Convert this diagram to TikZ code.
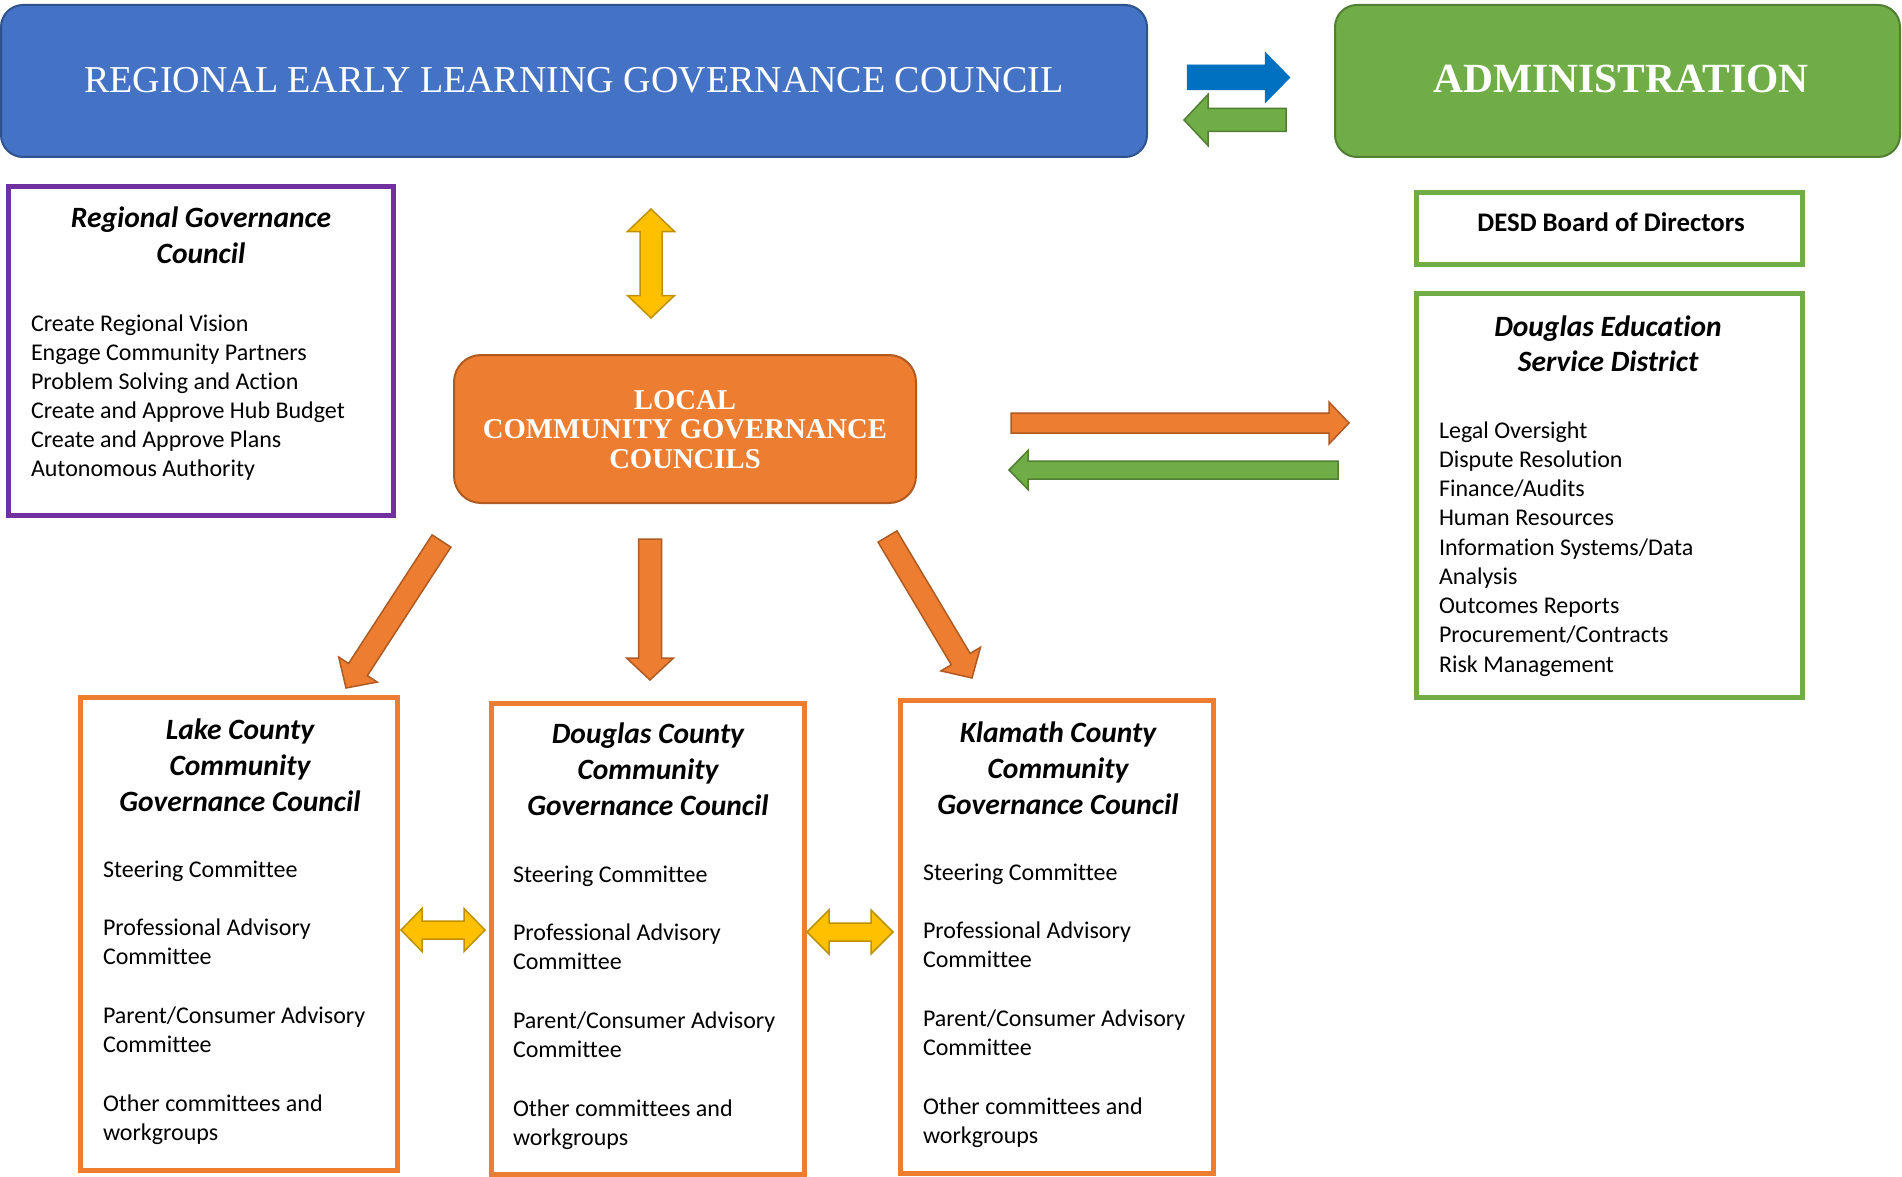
\documentclass[tikz,border=0pt]{standalone}
\usepackage{fontspec}
\setmainfont{Carlito}[Ligatures=NoCommon]
\newfontfamily\hdrfont{Liberation Serif}
\usetikzlibrary{calc}
\definecolor{hblue}{HTML}{4472C4}
\definecolor{hblueD}{HTML}{2F528F}
\definecolor{arrblue}{HTML}{0070C0}
\definecolor{ogreen}{HTML}{70AD47}
\definecolor{ogreenD}{HTML}{507E32}
\definecolor{oorange}{HTML}{ED7D31}
\definecolor{oorangeD}{HTML}{AE5A21}
\definecolor{oyellow}{HTML}{FFC000}
\definecolor{oyellowD}{HTML}{BF9000}
\definecolor{opurple}{HTML}{7030A0}
\newcommand\lst[1]{\begin{tabular}[t]{@{}l@{}}#1\end{tabular}}
\newcommand\ctr[1]{\begin{tabular}[t]{@{}c@{}}#1\end{tabular}}
\newcommand\itemfont{\fontsize{24}{29.3}\selectfont}
\newcommand\titlefont{\fontsize{29.5}{36}\selectfont\bfseries\itshape}
% single-headed block arrow: start, tip, shaft half width, head half width, head length, style
\newcommand\fatarrow[6]{%
  \coordinate (fah) at ($(#2)!#5!(#1)$);
  \filldraw[#6] ($(#1)!#3!90:(#2)$) -- ($(fah)!#3!-90:(#1)$) -- ($(fah)!#4!-90:(#1)$) -- (#2)
    -- ($(fah)!#4!90:(#1)$) -- ($(fah)!#3!90:(#1)$) -- ($(#1)!#3!-90:(#2)$) -- cycle;}
% double-headed block arrow: tip A, tip B, shaft half, head half, head length, style
\newcommand\dblarrow[6]{%
  \coordinate (dha) at ($(#1)!#5!(#2)$);
  \coordinate (dhb) at ($(#2)!#5!(#1)$);
  \filldraw[#6] (#1) -- ($(dha)!#4!90:(#2)$) -- ($(dha)!#3!90:(#2)$) -- ($(dhb)!#3!-90:(#1)$)
    -- ($(dhb)!#4!-90:(#1)$) -- (#2) -- ($(dhb)!#4!90:(#1)$) -- ($(dhb)!#3!90:(#1)$)
    -- ($(dha)!#3!-90:(#2)$) -- ($(dha)!#4!-90:(#2)$) -- cycle;}
\tikzset{
  frame/.style={draw, line width=5pt, fill=white, inner sep=0pt, outer sep=0pt},
  hdr/.style={rounded corners=22pt, line width=2pt, inner sep=0pt, outer sep=0pt},
  orangearrow/.style={fill=oorange, draw=oorangeD, line width=1.5pt, line join=miter},
  greenarrow/.style={fill=ogreen, draw=ogreenD, line width=1.5pt, line join=miter},
  yellowarrow/.style={fill=oyellow, draw=oyellowD, line width=1.5pt, line join=miter},
  bluearrow/.style={fill=arrblue, draw=arrblue, line width=0.5pt},
  txt/.style={inner sep=0pt, outer sep=0pt},
}
\begin{document}
\begin{tikzpicture}[x=1pt, y=-1pt]
\useasboundingbox (0,0) rectangle (1902,1177);
% header boxes
\node[hdr, fill=hblue, draw=hblueD, minimum width=1146pt, minimum height=152pt] (relgc) at (574,81) {};
\node[hdr, fill=ogreen, draw=ogreenD, minimum width=565pt, minimum height=152pt] (admin) at (1617.5,81) {};
\node[txt, anchor=base, text=white] (relgct) at (574,93) {\hdrfont\fontsize{38}{40}\selectfont REGIONAL EARLY LEARNING GOVERNANCE COUNCIL};
\node[txt, anchor=base, text=white] (admint) at (1621,93) {\hdrfont\fontsize{41.5}{44}\selectfont\bfseries ADMINISTRATION};
% header arrows
\coordinate (bA) at (1187,77.5); \coordinate (bB) at (1290,77.5);
\fatarrow{bA}{bB}{12.5pt}{25.5pt}{25pt}{bluearrow}
\coordinate (gA) at (1286,120); \coordinate (gB) at (1184,120);
\fatarrow{gA}{gB}{11.5pt}{25.5pt}{24pt}{greenarrow}
% regional governance council box
\node[frame, draw=opurple, minimum width=385pt, minimum height=329pt] (rgc) at (201,351) {};
\node[txt, anchor=base] (rgct) at (201,227) {\titlefont\ctr{Regional Governance\\Council}};
\node[txt, anchor=base west] (rgcl) at (31,331) {\fontsize{24}{29}\selectfont\lst{Create Regional Vision\\Engage Community Partners\\Problem Solving and Action\\Create and Approve Hub Budget\\Create and Approve Plans\\Autonomous Authority}};
% local community governance councils
\node[rounded corners=27pt, fill=oorange, draw=oorangeD, line width=2pt, minimum width=462pt, minimum height=148pt, inner sep=0pt] (lcgc) at (685,429) {};
\node[txt, anchor=base, text=white] (lcgct) at (685,409) {\hdrfont\fontsize{28.7}{29.5}\selectfont\bfseries\ctr{LOCAL\\COMMUNITY GOVERNANCE\\COUNCILS}};
% DESD boxes
\node[frame, draw=ogreen, minimum width=386pt, minimum height=72pt] (desd) at (1609.5,228.5) {};
\node[txt, anchor=base] (desdt) at (1611,231) {\fontsize{26.8}{30}\selectfont\bfseries DESD Board of Directors};
\node[frame, draw=ogreen, minimum width=386pt, minimum height=404pt] (desdist) at (1609.5,495.5) {};
\node[txt, anchor=base] (desdistt) at (1608,336) {\fontsize{29.5}{35}\selectfont\bfseries\itshape\ctr{Douglas Education\\Service District}};
\node[txt, anchor=base west] (desdistl) at (1439,438) {\fontsize{24}{29.25}\selectfont\lst{Legal Oversight\\Dispute Resolution\\Finance/Audits\\Human Resources\\Information Systems/Data\\Analysis\\Outcomes Reports\\Procurement/Contracts\\Risk Management}};
% county boxes
\node[frame, draw=oorange, minimum width=317pt, minimum height=473pt] (lake) at (239,934) {};
\node[txt, anchor=base] (laket) at (240,739) {\titlefont\ctr{Lake County\\Community\\Governance Council}};
\node[txt, anchor=base west] (lakel) at (103,877) {\itemfont\lst{Steering Committee\\ \\Professional Advisory\\Committee\\ \\Parent/Consumer Advisory\\Committee\\ \\Other committees and\\workgroups}};
\node[frame, draw=oorange, minimum width=313pt, minimum height=471pt] (douglas) at (648,939) {};
\node[txt, anchor=base] (douglast) at (648,743) {\titlefont\ctr{Douglas County\\Community\\Governance Council}};
\node[txt, anchor=base west] (douglasl) at (513,882) {\itemfont\lst{Steering Committee\\ \\Professional Advisory\\Committee\\ \\Parent/Consumer Advisory\\Committee\\ \\Other committees and\\workgroups}};
\node[frame, draw=oorange, minimum width=313pt, minimum height=473pt] (klamath) at (1057,937) {};
\node[txt, anchor=base] (klamatht) at (1058,742) {\titlefont\ctr{Klamath County\\Community\\Governance Council}};
\node[txt, anchor=base west] (klamathl) at (923,880) {\itemfont\lst{Steering Committee\\ \\Professional Advisory\\Committee\\ \\Parent/Consumer Advisory\\Committee\\ \\Other committees and\\workgroups}};
% block arrows
\coordinate (yA) at (651,209); \coordinate (yB) at (651,318);
\dblarrow{yA}{yB}{11pt}{23.5pt}{22.5pt}{yellowarrow}
\coordinate (oA) at (1011,423); \coordinate (oB) at (1349,423);
\fatarrow{oA}{oB}{10pt}{21pt}{20pt}{orangearrow}
\coordinate (g2A) at (1338,470); \coordinate (g2B) at (1009,470);
\fatarrow{g2A}{g2B}{9pt}{19.5pt}{19pt}{greenarrow}
\coordinate (dA) at (650,539); \coordinate (dB) at (650,680);
\fatarrow{dA}{dB}{11.5pt}{23.5pt}{22pt}{orangearrow}
\coordinate (lA) at (441.5,541); \coordinate (lB) at (346,688);
\fatarrow{lA}{lB}{11.2pt}{23pt}{22pt}{orangearrow}
\coordinate (rA) at (887.5,536.5); \coordinate (rB) at (972,678);
\fatarrow{rA}{rB}{11pt}{23pt}{22pt}{orangearrow}
\coordinate (h1A) at (401,930); \coordinate (h1B) at (485,930);
\dblarrow{h1A}{h1B}{9pt}{21.5pt}{21pt}{yellowarrow}
\coordinate (h2A) at (807,932); \coordinate (h2B) at (893,932);
\dblarrow{h2A}{h2B}{9pt}{22pt}{22pt}{yellowarrow}
\end{tikzpicture}
\end{document}
